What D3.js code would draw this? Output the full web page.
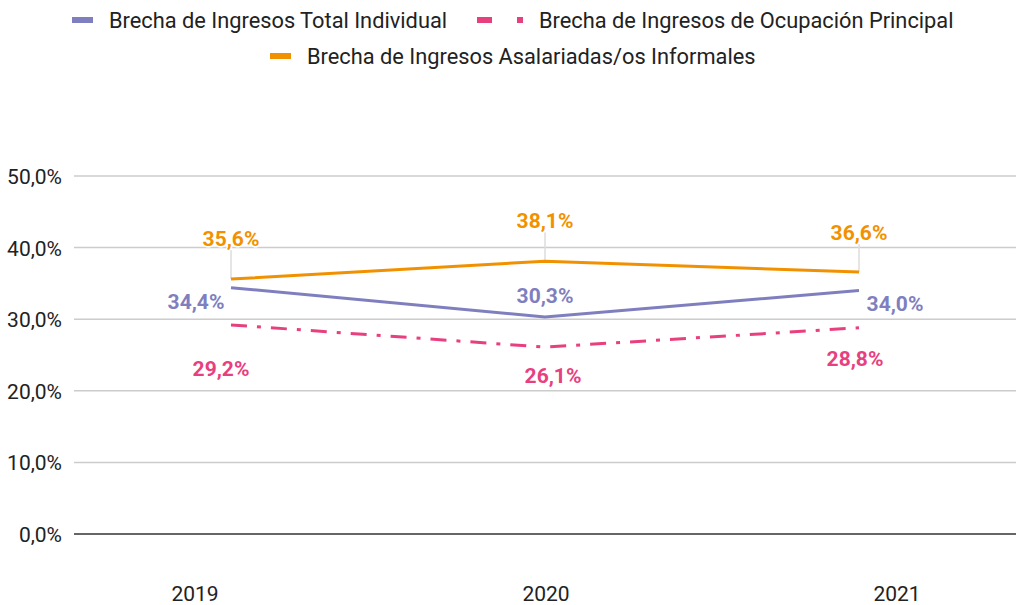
<!DOCTYPE html>
<html><head><meta charset="utf-8">
<script src="https://cdn.jsdelivr.net/npm/d3@7"></script>
<style>body{margin:0;background:#fff;font-family:Roboto,sans-serif}</style>
</head><body><svg id="c" width="1016" height="605"></svg>
<script>
const years = ["2019","2020","2021"];
const totalIndividual = [34.4, 30.3, 34.0];
const ocupacionPrincipal = [29.2, 26.1, 28.8];
const asalariadasInformales = [35.6, 38.1, 36.6];
const yTicks = [0,10,20,30,40,50];
const seriesNames = ["Brecha de Ingresos Total Individual","Brecha de Ingresos de Ocupación Principal","Brecha de Ingresos Asalariadas/os Informales"];

const svg = d3.select("#c");
const x = d3.scalePoint().domain(years).range([74,1016]).padding(0.5);
const xLabel = d3.scalePoint().domain(years).range([195,897]);
const y = d3.scaleLinear().domain([0,50]).range([534,176]);
const fmt = v => d3.format(".1f")(v).replace(".", ",") + "%";

// grid
svg.append("g").selectAll("line").data(yTicks).join("line")
  .attr("x1",74).attr("x2",1016).attr("y1",d=>y(d)).attr("y2",d=>y(d))
  .attr("stroke",d=>d===0?"#333":"#ccc").attr("stroke-width",1.5);
svg.append("g").selectAll("text").data(yTicks).join("text")
  .attr("x",62).attr("y",d=>y(d)+8).attr("text-anchor","end")
  .attr("font-size",21).attr("fill","#222").text(d=>fmt(d));
svg.append("g").selectAll("text").data(years).join("text")
  .attr("x",d=>xLabel(d)).attr("y",601).attr("text-anchor","middle")
  .attr("font-size",21).attr("fill","#222").text(d=>d);

const colors = ["#7f7fbf","#e8407f","#f29100"];
const data = [totalIndividual, ocupacionPrincipal, asalariadasInformales];
const line = d3.line().x((d,i)=>x(years[i])).y(d=>y(d));

// leader lines for orange labels
const orangeLabelDy = [-33,-33,-32];
svg.append("g").selectAll("line").data(asalariadasInformales).join("line")
  .attr("x1",(d,i)=>x(years[i])).attr("x2",(d,i)=>x(years[i]))
  .attr("y1",d=>y(d)).attr("y2",(d,i)=>y(d)+orangeLabelDy[i]+4)
  .attr("stroke","#ddd").attr("stroke-width",1.5);

data.forEach((s,k)=>{
  svg.append("path").datum(s).attr("d",line).attr("fill","none")
    .attr("stroke",colors[k]).attr("stroke-width",3)
    .attr("stroke-dasharray",k===1?"16,10,4,10":null);
});

// labels
const labelOffsets = [
  [[-35,21],[0,-14],[36,20]],
  [[-10,51],[8,36],[-4,38]],
  [[0,-33],[0,-33],[0,-32]]
];
data.forEach((s,k)=>{
  svg.append("g").selectAll("text").data(s).join("text")
    .attr("x",(d,i)=>x(years[i])+labelOffsets[k][i][0])
    .attr("y",(d,i)=>y(d)+labelOffsets[k][i][1])
    .attr("text-anchor","middle").attr("font-size",21).attr("font-weight","bold")
    .attr("fill",colors[k])
    .attr("stroke","#fff").attr("stroke-width",3).attr("paint-order","stroke")
    .text(d=>fmt(d));
});

// legend
const leg = [
  {x:72,y:20,k:0},
  {x:477,y:20,k:1},
  {x:270,y:56,k:2}
];
leg.forEach(l=>{
  const g = svg.append("g");
  if(l.k===1){
    g.append("rect").attr("x",l.x).attr("y",l.y-3).attr("width",15).attr("height",6).attr("fill",colors[l.k]);
    g.append("rect").attr("x",l.x+40).attr("y",l.y-3).attr("width",6).attr("height",6).attr("fill",colors[l.k]);
  } else {
    g.append("rect").attr("x",l.x).attr("y",l.y-3).attr("width",21).attr("height",6).attr("fill",colors[l.k]);
  }
  const tx = l.k===1 ? l.x+62 : l.x+37;
  g.append("text").attr("x",tx).attr("y",l.y+8).attr("font-size",21.8).attr("fill","#222").text(seriesNames[l.k]);
});
</script></body></html>
